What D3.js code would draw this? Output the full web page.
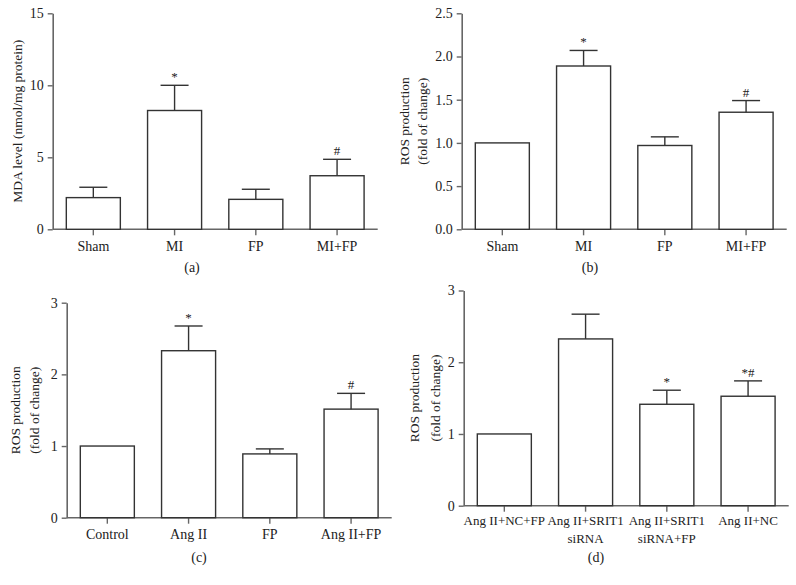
<!DOCTYPE html>
<html>
<head>
<meta charset="utf-8">
<script src="https://cdn.jsdelivr.net/npm/d3@7"></script>
<style>
  html, body { margin: 0; padding: 0; background: #fff; }
  svg { display: block; font-family: "Liberation Serif", "Times New Roman", serif; }
</style>
</head>
<body>
<svg id="chart" width="796" height="585"></svg>
<script>
// ---------- data ----------
const catsA = ["Sham", "MI", "FP", "MI+FP"];
const valsA = [2.2, 8.25, 2.08, 3.72];
const errA  = [0.72, 1.75, 0.70, 1.14];
const markA = ["", "*", "", "#"];
const ticksA = [0, 5, 10, 15];

const catsB = ["Sham", "MI", "FP", "MI+FP"];
const valsB = [1.0, 1.89, 0.97, 1.355];
const errB  = [0, 0.18, 0.10, 0.135];
const markB = ["", "*", "", "#"];
const ticksB = [0, 0.5, 1.0, 1.5, 2.0, 2.5];

const catsC = ["Control", "Ang II", "FP", "Ang II+FP"];
const valsC = [1.0, 2.33, 0.89, 1.515];
const errC  = [0, 0.345, 0.07, 0.22];
const markC = ["", "*", "", "#"];
const ticksC = [0, 1, 2, 3];

const catsD = ["Ang II+NC+FP", "Ang II+SRIT1\nsiRNA", "Ang II+SRIT1\nsiRNA+FP", "Ang II+NC"];
const valsD = [1.0, 2.325, 1.414, 1.526];
const errD  = [0, 0.345, 0.196, 0.214];
const markD = ["", "", "*", "*#"];
const ticksD = [0, 1, 2, 3];

// ---------- drawing ----------
const svg = d3.select("#chart");
const AXIS = "#666", BAR = "#333", TXT = "#222";

function panel(o) {
  const g = svg.append("g");
  const x = d3.scaleBand().domain(o.cats).range([o.x0, o.x1]).paddingInner(0.335).paddingOuter(0.1675);
  const y = d3.scaleLinear().domain([0, o.ymax]).range([o.yb, o.yt]);

  // y axis
  const ya = g.append("g").attr("transform", `translate(${o.x0},0)`)
    .call(d3.axisLeft(y).tickValues(o.ticks).tickFormat(o.fmt).tickSize(5).tickSizeOuter(0).tickPadding(4));
  // x axis
  const xa = g.append("g").attr("transform", `translate(0,${o.yb})`)
    .call(d3.axisBottom(x).tickSize(6).tickSizeOuter(0).tickPadding(0));
  [ya, xa].forEach(a => {
    a.select(".domain").attr("stroke", AXIS).attr("stroke-width", 1.6);
    a.selectAll(".tick line").attr("stroke", AXIS).attr("stroke-width", 1.4);
    a.selectAll("text").attr("fill", TXT).style("font-size", "14px").style("font-family", "Liberation Serif, serif");
  });
  xa.selectAll("text").style("font-size", o.catSize);
  // x axis line runs from the y axis to the end
  xa.select(".domain").attr("d", `M${o.x0},0H${o.x1}`);
  // category labels (multi-line)
  xa.selectAll(".tick text").each(function(d) {
    const t = d3.select(this).text(null).attr("y", null).attr("dy", null);
    d.split("\n").forEach((line, i) => {
      t.append("tspan").attr("x", 0).attr("y", o.lab + i * 18).text(line);
    });
  });

  // bars
  g.selectAll(".bar").data(o.vals).join("rect")
    .attr("x", (d, i) => x(o.cats[i]))
    .attr("y", d => y(d))
    .attr("width", x.bandwidth())
    .attr("height", d => o.yb - y(d))
    .attr("fill", "#fff").attr("stroke", BAR).attr("stroke-width", 1.4);

  // error bars
  const cap = 14;
  o.vals.forEach((v, i) => {
    const e = o.err[i];
    const cx = x(o.cats[i]) + x.bandwidth() / 2;
    if (e > 0) {
      g.append("line").attr("x1", cx).attr("x2", cx).attr("y1", y(v)).attr("y2", y(v + e))
        .attr("stroke", BAR).attr("stroke-width", 1.4);
      g.append("line").attr("x1", cx - cap).attr("x2", cx + cap).attr("y1", y(v + e)).attr("y2", y(v + e))
        .attr("stroke", BAR).attr("stroke-width", 1.4);
    }
    if (o.marks[i]) {
      g.append("text").attr("x", cx).attr("y", y(v + e) - 4)
        .attr("text-anchor", "middle").attr("fill", TXT).style("font-size", "13px")
        .text(o.marks[i]);
    }
  });

  // y title
  const yt = g.append("text").attr("transform", `translate(0,${(o.yt + o.yb) / 2}) rotate(-90)`)
    .attr("text-anchor", "middle").attr("fill", TXT).style("font-size", "13.5px");
  o.title.forEach((line, i) => yt.append("tspan").attr("x", 0).attr("y", o.titleX[i]).text(line));

  // caption
  g.append("text").attr("x", o.capX).attr("y", o.capY).attr("text-anchor", "middle")
    .attr("fill", TXT).style("font-size", "14px").text(o.cap);
}

panel({cats: catsA, vals: valsA, err: errA, marks: markA, ticks: ticksA, ymax: 15, fmt: d3.format("d"),
  x0: 52.7, x1: 377.7, yt: 13.3, yb: 229.3, lab: 22, catSize: "14px",
  title: ["MDA level (nmol/mg protein)"], titleX: [21.5], cap: "(a)", capX: 192, capY: 272});

panel({cats: catsB, vals: valsB, err: errB, marks: markB, ticks: ticksB, ymax: 2.5, fmt: d3.format(".1f"),
  x0: 461.7, x1: 786.7, yt: 13.3, yb: 229.3, lab: 22, catSize: "14px",
  title: ["ROS production", "(fold of change)"], titleX: [408.5, 427], cap: "(b)", capX: 590, capY: 272});

panel({cats: catsC, vals: valsC, err: errC, marks: markC, ticks: ticksC, ymax: 3, fmt: d3.format("d"),
  x0: 66.7, x1: 391.7, yt: 302.7, yb: 517.7, lab: 21, catSize: "14px",
  title: ["ROS production", "(fold of change)"], titleX: [19.5, 38.5], cap: "(c)", capX: 199, capY: 562});

panel({cats: catsD, vals: valsD, err: errD, marks: markD, ticks: ticksD, ymax: 3, fmt: d3.format("d"),
  x0: 463.7, x1: 788.7, yt: 290.5, yb: 505.7, lab: 19, catSize: "13px",
  title: ["ROS production", "(fold of change)"], titleX: [419, 439.5], cap: "(d)", capX: 596, capY: 562});
</script>
</body>
</html>
